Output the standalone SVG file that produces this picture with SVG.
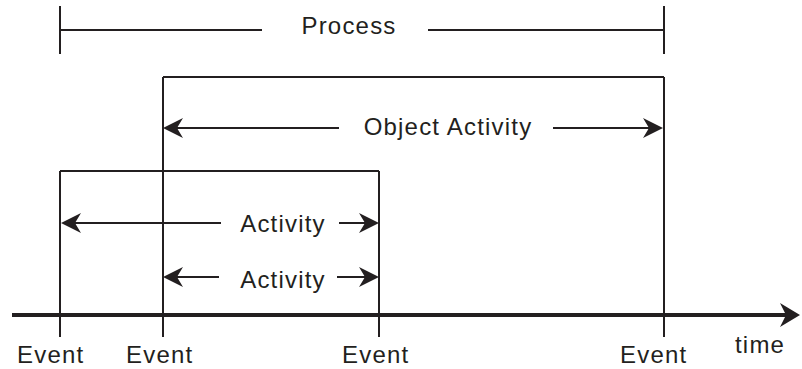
<svg xmlns="http://www.w3.org/2000/svg" width="802" height="369" viewBox="0 0 802 369">
  <style>
    .edge { stroke: #231f20; stroke-width: 2; fill: none; }
    .axis { stroke: #231f20; stroke-width: 4; fill: none; }
    .lbl { font-family: "Liberation Sans", Arial, sans-serif; font-size: 24px; letter-spacing: 1.2px; fill: #231f20; }
    .mid { text-anchor: middle; }
  </style>
  <defs>
    <marker id="head" markerUnits="userSpaceOnUse" viewBox="-12 -12 24 24" markerWidth="24" markerHeight="24" refX="0" refY="0" orient="auto">
      <path d="M10,0 L-10,-10 L-4,0 L-10,10 Z" fill="#231f20"/>
    </marker>
    <marker id="axisHead" markerUnits="userSpaceOnUse" viewBox="-12 -14 24 28" markerWidth="24" markerHeight="28" refX="0" refY="0" orient="auto">
      <path d="M10,0 L-10,-12 L-4,0 L-10,12 Z" fill="#231f20"/>
    </marker>
  </defs>

  <!-- time axis -->
  <g id="time-axis">
    <path class="axis" d="M12,315 H790" marker-end="url(#axisHead)"/>
    <text class="lbl" x="735" y="353">time</text>
  </g>

  <!-- span boundaries and events -->
  <g id="event-1">
    <path class="edge" d="M60,171 V337"/>
    <text class="lbl" x="17" y="363">Event</text>
  </g>
  <g id="event-2">
    <path class="edge" d="M163,77 V337"/>
    <text class="lbl" x="126" y="363">Event</text>
  </g>
  <g id="event-3">
    <path class="edge" d="M379,171 V337"/>
    <text class="lbl" x="342" y="363">Event</text>
  </g>
  <g id="event-4">
    <path class="edge" d="M664,77 V337"/>
    <text class="lbl" x="620" y="363">Event</text>
  </g>

  <!-- spans -->
  <g id="process">
    <path class="edge" d="M60,6 V54 M664,6 V54"/>
    <text class="lbl mid" x="349" y="34">Process</text>
  </g>
  <g id="object-activity">
    <path class="edge" d="M163,77 H664"/>
    <text class="lbl mid" x="448" y="135">Object Activity</text>
  </g>
  <g id="activity-outer">
    <path class="edge" d="M60,171 H379"/>
    <text class="lbl mid" x="283" y="232">Activity</text>
  </g>
  <g id="activity-inner">
    <text class="lbl mid" x="283" y="288">Activity</text>
  </g>

  <!-- connectors -->
  <g id="connectors">
    <path class="edge" d="M262,30 H60"/>
    <path class="edge" d="M428,30 H664"/>
    <path class="edge" d="M339,128 H173" marker-end="url(#head)"/>
    <path class="edge" d="M553,128 H653" marker-end="url(#head)"/>
    <path class="edge" d="M221,223 H71" marker-end="url(#head)"/>
    <path class="edge" d="M339,223 H369" marker-end="url(#head)"/>
    <path class="edge" d="M219,277 H173" marker-end="url(#head)"/>
    <path class="edge" d="M337,277 H369" marker-end="url(#head)"/>
  </g>
</svg>
